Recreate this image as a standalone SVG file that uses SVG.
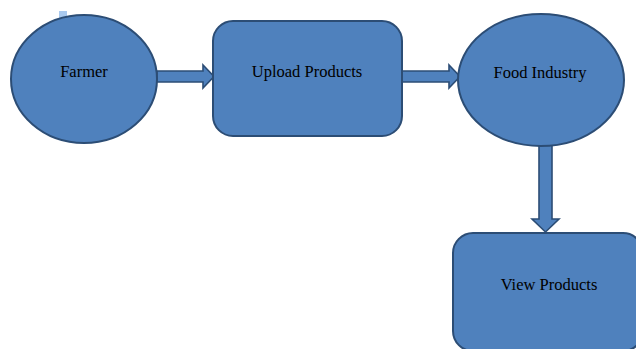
<svg xmlns="http://www.w3.org/2000/svg" width="636" height="349" viewBox="0 0 636 349">
  <style>
    .shape { fill: #4f81bd; stroke: #2c4d75; stroke-width: 2; }
    .arrow { fill: #4f81bd; stroke: #2c4d75; stroke-width: 1.6; stroke-linejoin: miter; }
    .label { font-family: "Liberation Serif", "Times New Roman", serif; font-size: 16.5px; fill: #000; text-anchor: middle; }
  </style>
  <rect x="59" y="11" width="8" height="7" fill="#a9c9ee"/>
  <g id="connectors">
    <polygon class="arrow" points="157,71 203,71 203,65 214,76.5 203,88 203,82 157,82"/>
    <polygon class="arrow" points="402,71 449,71 449,65 460,76.5 449,88 449,82 402,82"/>
    <polygon class="arrow" points="539,143 552,143 552,219 559,219 545.5,232 532,219 539,219"/>
  </g>
  <g id="farmer">
    <ellipse class="shape" cx="84" cy="79" rx="73" ry="64"/>
    <text class="label" x="84" y="77">Farmer</text>
  </g>
  <g id="upload-products">
    <rect class="shape" x="213" y="21" width="189" height="115" rx="20"/>
    <text class="label" x="307" y="77">Upload Products</text>
  </g>
  <g id="food-industry">
    <ellipse class="shape" cx="541" cy="80" rx="83" ry="66"/>
    <text class="label" x="540" y="78">Food Industry</text>
  </g>
  <g id="view-products">
    <rect class="shape" x="453" y="233" width="190" height="118" rx="20"/>
    <text class="label" x="549" y="290">View Products</text>
  </g>
</svg>
